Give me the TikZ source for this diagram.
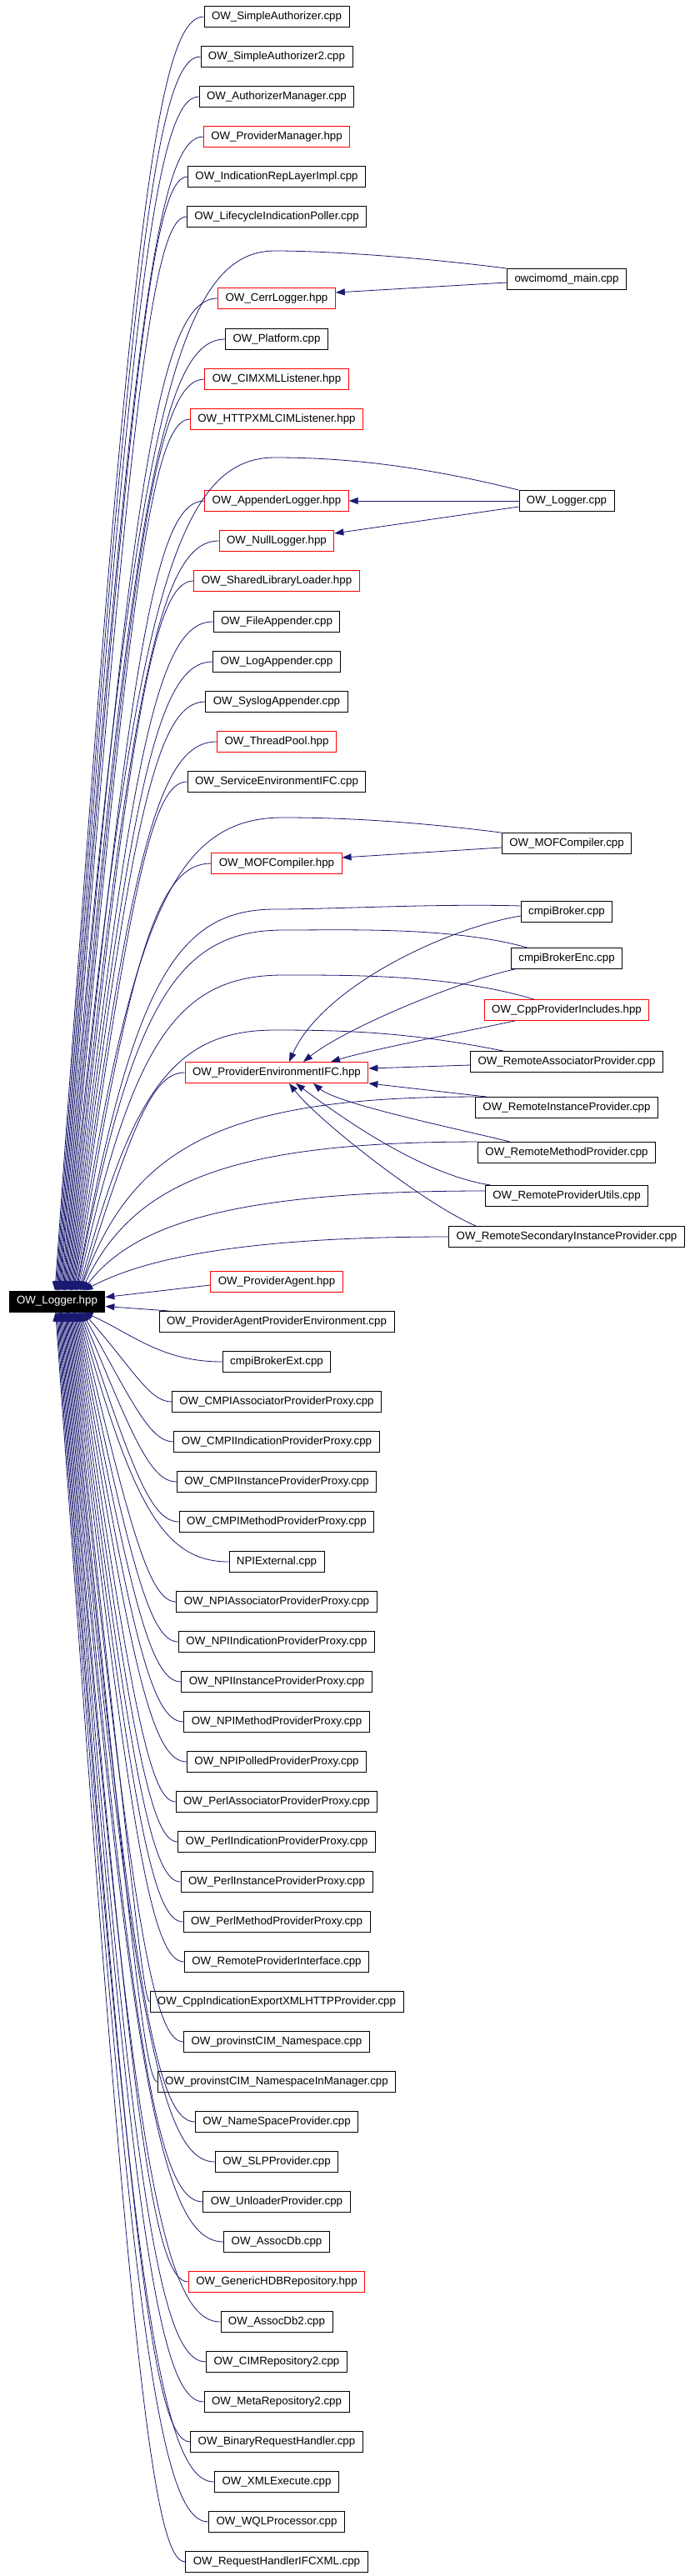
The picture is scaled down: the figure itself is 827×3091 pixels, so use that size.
\documentclass[tikz,border=0pt]{standalone}
\usepackage{fontspec}
\setmainfont{Liberation Sans}
\usepackage{tikz}
\usetikzlibrary{arrows.meta,calc,positioning}

\definecolor{edgeblue}{HTML}{191970}
\definecolor{hdrred}{HTML}{FF0000}
\newcommand{\depfont}{\fontsize{13.3pt}{16pt}\selectfont}

\tikzset{
  file/.style={draw=black, line width=0.9pt, inner xsep=9pt, inner ysep=0pt,
    minimum height=25pt, font=\depfont},
  header/.style={file, draw=hdrred},
  root/.style={file, fill=black, text=white},
  deppart/.style={draw=edgeblue, line width=0.8pt},
  dep/.style={deppart, -{Triangle[length=11pt,width=8pt]}}
}

% edge into OW_Logger.hpp: #1 start, #2 north/south side, #3 knee shift
\newcommand{\depto}[3]{%
  \draw[dep] let \p1=(#1), \p2=(hpp.#2),
      \n1={66+36*(1-abs(\y1-(\y2))/1530pt)} in
    (\p1) .. controls ({\x1-0.75*(\x1-170pt)},\y1)
      and ($({\n1*1pt},\y2)!0.85!(170pt,{\y1+(#3pt)})$) .. ({\n1*1pt},\y2);}

\begin{document}
\begin{tikzpicture}[x=1pt,y=-1pt]
\fill[white] (0,0) rectangle (827,3091);

% the included header
\node[root] (hpp) at (68.5,1561.5) {OW\_Logger.hpp};

% files that include it
\node[file] (sa) at (332,20) {OW\_SimpleAuthorizer.cpp};
\node[file] (saz) at (332,68) {OW\_SimpleAuthorizer2.cpp};
\node[file] (authmgr) at (332,116) {OW\_AuthorizerManager.cpp};
\node[header] (provmgr) at (332,164) {OW\_ProviderManager.hpp};
\node[file] (indrep) at (332,212) {OW\_IndicationRepLayerImpl.cpp};
\node[file] (lifepoll) at (332,260) {OW\_LifecycleIndicationPoller.cpp};
\node[header] (cerr) at (332,358) {OW\_CerrLogger.hpp};
\node[file] (platform) at (332,407) {OW\_Platform.cpp};
\node[header] (cimxml) at (332,455) {OW\_CIMXMLListener.hpp};
\node[header] (httpxml) at (332,503) {OW\_HTTPXMLCIMListener.hpp};
\node[header] (applog) at (332,601) {OW\_AppenderLogger.hpp};
\node[header] (nulllog) at (332,649) {OW\_NullLogger.hpp};
\node[header] (shlib) at (332,697) {OW\_SharedLibraryLoader.hpp};
\node[file] (fileapp) at (332,746) {OW\_FileAppender.cpp};
\node[file] (logapp) at (332,794) {OW\_LogAppender.cpp};
\node[file] (sysapp) at (332,842) {OW\_SyslogAppender.cpp};
\node[header] (tpool) at (332,890) {OW\_ThreadPool.hpp};
\node[file] (svcenv) at (332,938) {OW\_ServiceEnvironmentIFC.cpp};
\node[header] (mofh) at (332,1036) {OW\_MOFCompiler.hpp};
\node[header] (provenv) at (332,1287) {OW\_ProviderEnvironmentIFC.hpp};
\node[header] (agent) at (332,1538) {OW\_ProviderAgent.hpp};
\node[file] (agentenv) at (332,1586) {OW\_ProviderAgentProviderEnvironment.cpp};
\node[file] (brokerext) at (332,1634) {cmpiBrokerExt.cpp};
\node[file] (cmpiassoc) at (332,1682) {OW\_CMPIAssociatorProviderProxy.cpp};
\node[file] (cmpiind) at (332,1730) {OW\_CMPIIndicationProviderProxy.cpp};
\node[file] (cmpiinst) at (332,1778) {OW\_CMPIInstanceProviderProxy.cpp};
\node[file] (cmpimeth) at (332,1826) {OW\_CMPIMethodProviderProxy.cpp};
\node[file] (npiext) at (332,1874) {NPIExternal.cpp};
\node[file] (npiassoc) at (332,1922) {OW\_NPIAssociatorProviderProxy.cpp};
\node[file] (npiind) at (332,1970) {OW\_NPIIndicationProviderProxy.cpp};
\node[file] (npiinst) at (332,2018) {OW\_NPIInstanceProviderProxy.cpp};
\node[file] (npimeth) at (332,2066) {OW\_NPIMethodProviderProxy.cpp};
\node[file] (npipoll) at (332,2114) {OW\_NPIPolledProviderProxy.cpp};
\node[file] (perlassoc) at (332,2162) {OW\_PerlAssociatorProviderProxy.cpp};
\node[file] (perlind) at (332,2210) {OW\_PerlIndicationProviderProxy.cpp};
\node[file] (perlinst) at (332,2258) {OW\_PerlInstanceProviderProxy.cpp};
\node[file] (perlmeth) at (332,2306) {OW\_PerlMethodProviderProxy.cpp};
\node[file] (rpiface) at (332,2354) {OW\_RemoteProviderInterface.cpp};
\node[file] (cppexport) at (332,2402) {OW\_CppIndicationExportXMLHTTPProvider.cpp};
\node[file] (nsprov) at (332,2450) {OW\_provinstCIM\_Namespace.cpp};
\node[file] (nsinmgr) at (332,2498) {OW\_provinstCIM\_NamespaceInManager.cpp};
\node[file] (nameprov) at (332,2546) {OW\_NameSpaceProvider.cpp};
\node[file] (slpprov) at (332,2594) {OW\_SLPProvider.cpp};
\node[file] (unloadprov) at (332,2642) {OW\_UnloaderProvider.cpp};
\node[file] (assocdb) at (332,2690) {OW\_AssocDb.cpp};
\node[header] (hdbrepos) at (332,2738) {OW\_GenericHDBRepository.hpp};
\node[file] (assocdbz) at (332,2786) {OW\_AssocDb2.cpp};
\node[file] (cimrepos) at (332,2834) {OW\_CIMRepository2.cpp};
\node[file] (metarepos) at (332,2882) {OW\_MetaRepository2.cpp};
\node[file] (binreq) at (332,2930) {OW\_BinaryRequestHandler.cpp};
\node[file] (xmlexec) at (332,2978) {OW\_XMLExecute.cpp};
\node[file] (wqlproc) at (332,3026) {OW\_WQLProcessor.cpp};
\node[file] (reqxml) at (332,3074) {OW\_RequestHandlerIFCXML.cpp};

% second rank
\node[file] (owc) at (680,335) {owcimomd\_main.cpp};
\node[file] (loggercpp) at (680,601) {OW\_Logger.cpp};
\node[file] (mofcpp) at (680,1012) {OW\_MOFCompiler.cpp};
\node[file] (broker) at (680,1094) {cmpiBroker.cpp};
\node[file] (brokerenc) at (680,1150) {cmpiBrokerEnc.cpp};
\node[header] (cppinc) at (680,1212) {OW\_CppProviderIncludes.hpp};
\node[file] (remassoc) at (680,1274) {OW\_RemoteAssociatorProvider.cpp};
\node[file] (reminst) at (680,1329) {OW\_RemoteInstanceProvider.cpp};
\node[file] (remmeth) at (680,1383) {OW\_RemoteMethodProvider.cpp};
\node[file] (remutils) at (680,1435) {OW\_RemoteProviderUtils.cpp};
\node[file] (remsec) at (680,1484) {OW\_RemoteSecondaryInstanceProvider.cpp};

% where long edges cross the first rank
\coordinate (v1) at (330,301);
\coordinate (v2) at (330,549);
\coordinate (v3) at (340,981);
\coordinate (v4) at (330,1091);
\coordinate (v5) at (340,1116);
\coordinate (v6) at (340,1170);
\coordinate (v7) at (330,1236);

% edges from above
\depto{sa.west}{north}{-28}
\depto{saz.west}{north}{-28}
\depto{authmgr.west}{north}{-28}
\depto{provmgr.west}{north}{-28}
\depto{indrep.west}{north}{-28}
\depto{lifepoll.west}{north}{-28}
\depto{v1}{north}{-28}
\depto{cerr.west}{north}{-28}
\depto{platform.west}{north}{-28}
\depto{cimxml.west}{north}{-28}
\depto{httpxml.west}{north}{-28}
\depto{v2}{north}{-28}
\depto{applog.west}{north}{-28}
\depto{nulllog.west}{north}{-28}
\depto{shlib.west}{north}{-28}
\depto{fileapp.west}{north}{-28}
\depto{logapp.west}{north}{-28}
\depto{sysapp.west}{north}{-28}
\depto{tpool.west}{north}{-28}
\depto{svcenv.west}{north}{-28}
\depto{v3}{north}{-28}
\depto{mofh.west}{north}{-28}
\depto{v4}{north}{-28}
\depto{v5}{north}{-28}
\depto{v6}{north}{-28}
\depto{v7}{north}{-28}
\depto{provenv.west}{north}{-28}
\depto{reminst.north west}{north}{-28}
\depto{remmeth.north west}{north}{-28}
\depto{$(remutils.west)+(0,-6)$}{north}{-28}
\depto{remsec.west}{north}{-28}

% straight in from the side
\draw[dep] ($(agent.west)+(0,4)$) -- ($(hpp.east)+(0,-5)$);
\draw[dep] ($(agentenv.north west)+(13,0)$) -- ($(hpp.east)+(0,6)$);

% edges from below
\depto{brokerext.west}{south}{28}
\depto{cmpiassoc.west}{south}{28}
\depto{cmpiind.west}{south}{28}
\depto{cmpiinst.west}{south}{28}
\depto{cmpimeth.west}{south}{28}
\depto{npiext.west}{south}{28}
\depto{npiassoc.west}{south}{28}
\depto{npiind.west}{south}{28}
\depto{npiinst.west}{south}{28}
\depto{npimeth.west}{south}{28}
\depto{npipoll.west}{south}{28}
\depto{perlassoc.west}{south}{28}
\depto{perlind.west}{south}{28}
\depto{perlinst.west}{south}{28}
\depto{perlmeth.west}{south}{28}
\depto{rpiface.west}{south}{28}
\depto{cppexport.west}{south}{28}
\depto{nsprov.west}{south}{28}
\depto{nsinmgr.west}{south}{28}
\depto{nameprov.west}{south}{28}
\depto{slpprov.west}{south}{28}
\depto{unloadprov.west}{south}{28}
\depto{assocdb.west}{south}{28}
\depto{hdbrepos.west}{south}{28}
\depto{assocdbz.west}{south}{28}
\depto{cimrepos.west}{south}{28}
\depto{metarepos.west}{south}{28}
\depto{binreq.west}{south}{28}
\depto{xmlexec.west}{south}{28}
\depto{wqlproc.west}{south}{28}
\depto{reqxml.west}{south}{28}

% second rank to first rank
\draw[dep] ($(owc.west)+(0,4)$) -- ($(cerr.east)+(0,-7)$);
\draw[deppart] (owc.north west) .. controls +(-110,-14) and +(60,0) .. (v1);
\draw[dep] (loggercpp.west) -- (applog.east);
\draw[dep] ($(loggercpp.west)+(0,7)$) -- ($(nulllog.east)+(0,-9)$);
\draw[deppart] (loggercpp.north west) .. controls +(-120,-30) and +(80,0) .. (v2);
\draw[dep] ($(mofcpp.west)+(0,5)$) -- ($(mofh.east)+(0,-7)$);
\draw[deppart] (mofcpp.north west) .. controls +(-120,-15) and +(60,0) .. (v3);
\draw[deppart] ($(broker.west)+(0,-7)$) .. controls +(-100,-3) and +(70,0) .. (v4);
\draw[dep] ($(broker.west)+(0,5)$) .. controls +(-90,15) and +(40,-90) .. ($(provenv.north)+(15,0)$);
\draw[deppart] ($(brokerenc.north west)+(20,0)$) .. controls +(-90,-25) and +(80,0) .. (v5);
\draw[dep] ($(brokerenc.south west)+(5,0)$) .. controls +(-70,15) and +(50,-40) .. ($(provenv.north)+(32,0)$);
\draw[deppart] ($(cppinc.north west)+(60,0)$) .. controls +(-100,-30) and +(80,0) .. (v6);
\draw[dep] ($(cppinc.south west)+(37,0)$) .. controls +(-70,15) and +(50,-15) .. ($(provenv.north)+(65,0)$);
\draw[deppart] ($(remassoc.north west)+(40,0)$) .. controls +(-110,-22) and +(90,0) .. (v7);
\draw[dep] ($(remassoc.west)+(0,4)$) -- ($(provenv.east)+(0,-5)$);
\draw[dep] ($(reminst.north west)+(14,0)$) -- (provenv.south east);
\draw[dep] ($(remmeth.north west)+(39,0)$) .. controls +(-60,-15) and +(30,25) .. ($(provenv.south)+(44,0)$);
\draw[dep] ($(remutils.north west)+(7,0)$) .. controls +(-80,-12) and +(60,45) .. ($(provenv.south)+(23,0)$);
\draw[dep] ($(remsec.north west)+(33,0)$) .. controls +(-60,-25) and +(35,45) .. ($(provenv.south)+(15,0)$);
\end{tikzpicture}
\end{document}
